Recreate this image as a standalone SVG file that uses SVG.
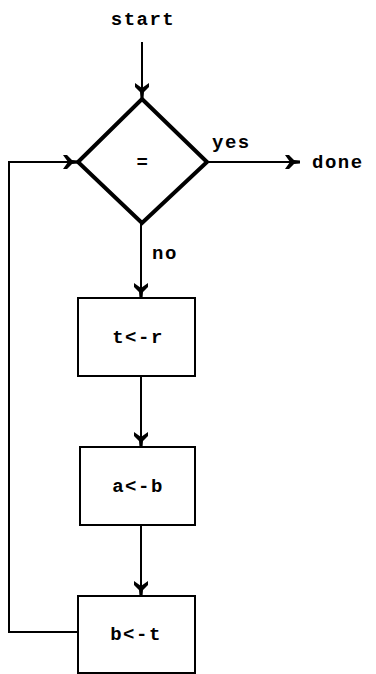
<svg xmlns="http://www.w3.org/2000/svg" width="376" height="674" viewBox="0 0 376 674">
<style>
text{font-family:"Liberation Mono","DejaVu Sans Mono",monospace;font-size:19px;font-weight:bold;fill:#000;letter-spacing:1.5px}
.c{text-anchor:middle}
.box{fill:#fff;stroke:#000;stroke-width:2}
.dia{fill:#fff;stroke:#000;stroke-width:4}
.ln{fill:none;stroke:#000;stroke-width:2}
</style>
<defs>
<marker id="ah" viewBox="0 0 16 16" refX="15" refY="8" markerWidth="16" markerHeight="16" markerUnits="userSpaceOnUse" orient="auto">
<path d="M0,1 L4,1 L9,6 L15,6.5 L15,9.5 L9,10 L4,15 L0,15 L5,8 Z" fill="#000"/>
</marker>
</defs>
<rect width="376" height="674" fill="#fff"/>
<g id="connectors">
<path class="ln" d="M142,42 V98" marker-end="url(#ah)"/>
<path class="ln" d="M207,162 H300" marker-end="url(#ah)"/>
<path class="ln" d="M141,224 V298" marker-end="url(#ah)"/>
<path class="ln" d="M141,376 V447" marker-end="url(#ah)"/>
<path class="ln" d="M141,525 V596" marker-end="url(#ah)"/>
<path class="ln" d="M78,632 H9 V162 H78" marker-end="url(#ah)"/>
<text x="212" y="148">yes</text>
<text x="152" y="259">no</text>
</g>
<g id="start"><text class="c" x="143" y="25">start</text></g>
<g id="done"><text x="312" y="168">done</text></g>
<g id="decision">
<polygon class="dia" points="142,99 207,162 142,223 78,162"/>
<text class="c" x="143" y="168">=</text>
</g>
<g id="step1">
<rect class="box" x="78" y="298" width="117" height="78"/>
<text class="c" x="138" y="343">t&lt;-r</text>
</g>
<g id="step2">
<rect class="box" x="80" y="447" width="115" height="78"/>
<text class="c" x="138" y="492">a&lt;-b</text>
</g>
<g id="step3">
<rect class="box" x="78" y="596" width="117" height="77"/>
<text class="c" x="136" y="640">b&lt;-t</text>
</g>
</svg>
